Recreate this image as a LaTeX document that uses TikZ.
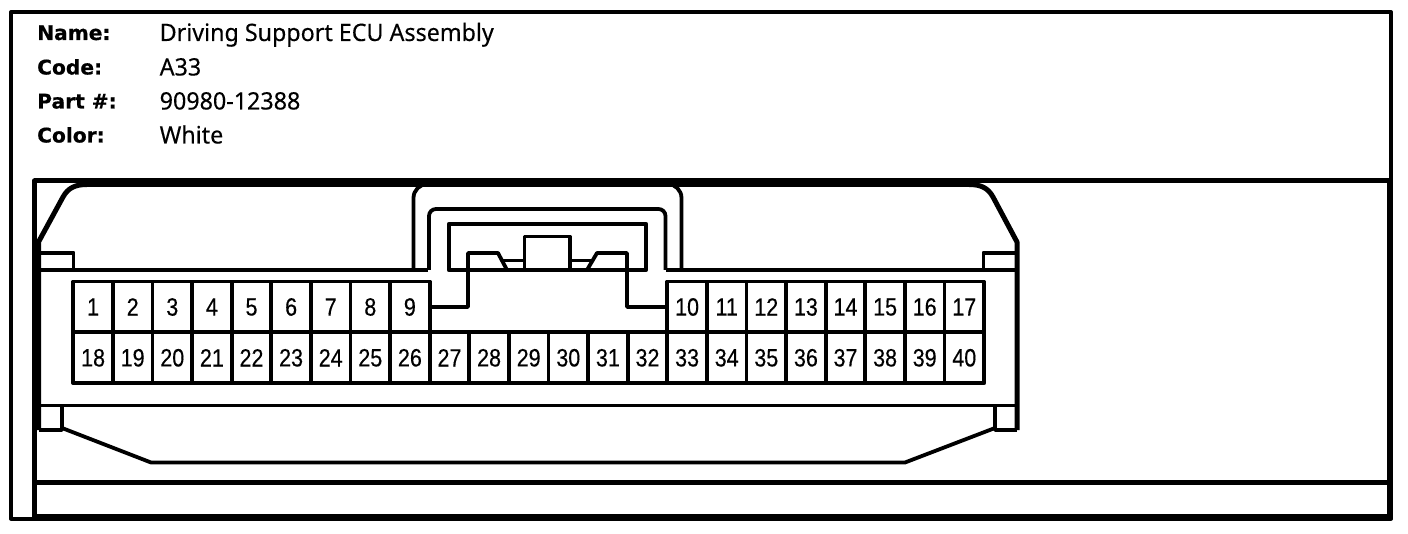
\documentclass[tikz,border=0pt]{standalone}
\usepackage{fontspec}
\setmainfont[FakeStretch=0.97,FakeBold=0.25]{Noto Sans}
\newfontfamily\labelfont[BoldFeatures={FakeBold=0.5}]{DejaVu Sans}
\newfontfamily\pinfont[FakeStretch=0.86,FakeBold=0.35]{Liberation Sans}
\usetikzlibrary{positioning}

\begin{document}
\begin{tikzpicture}[x=1pt, y=-1pt, line join=round,
    framel/.style={line width=4pt},
    bodyl/.style={line width=3.8pt},
    heavyl/.style={line width=5pt},
    pinbox/.style={draw, line width=3.8pt, minimum width=39.6pt, minimum height=50.8pt, inner sep=0pt, outer sep=0pt, font=\pinfont\fontsize{25}{25}\selectfont},
    keytext/.style={anchor=base west, inner sep=0pt, font=\labelfont\bfseries\fontsize{20.2}{20}\selectfont},
    valtext/.style={anchor=base west, inner sep=0pt, font=\fontsize{24}{24}\selectfont}]
        \useasboundingbox (0,0) rectangle (1408,534);
        % Frames
        \draw[framel] (11,518.5) -- (11,12) -- (1391,12) -- (1391,518.5) -- cycle;
        \draw[line width=5pt] (34.5,181) rectangle (1389,516.5);
        \draw[line width=5pt] (34.5,482.5) -- (1389,482.5);
        % Header
        \node[keytext] (kname) at (37,40) {Name:};
        \node[keytext] (kcode) at (37,74.5) {Code:};
        \node[keytext] (kpart) at (37,108.5) {Part \#:};
        \node[keytext] (kcolor) at (37,142.5) {Color:};
        \node[valtext] (vname) at (159.5,41) {Driving Support ECU Assembly};
        \node[valtext] (vcode) at (159.5,75.5) {A33};
        \node[valtext] (vpart) at (159.5,109.5) {90980-12388};
        \node[valtext] (vcolor) at (159.5,143.5) {White};
        % Housing outline
        \draw[line width=8.5pt] (85,182.5) -- (975,182.5);
        \draw[heavyl] (38.5,430) -- (38.5,242) -- (63,197) .. controls (68,188) and (75,184.5) .. (87,184.5);
        \draw[heavyl] (1017,430) -- (1017,242) -- (993,197) .. controls (988,188) and (981,184.5) .. (969,184.5);
        \draw[bodyl] (38.5,430) -- (62,430) -- (62,406);
        \draw[bodyl] (1017,430) -- (995,430) -- (995,406);
        \draw[bodyl] (38.5,405.5) -- (1017,405.5);
        \draw[bodyl] (62,428) -- (151,462.5) -- (905,462.5) -- (995,428);
        % Latch ledge
        \draw[bodyl] (38.5,270) -- (428,270);
        \draw[bodyl] (666,270) -- (1017,270);
        \draw[bodyl] (38.5,252.7) -- (73.5,252.7) -- (73.5,270);
        \draw[bodyl] (1017,252.7) -- (983.5,252.7) -- (983.5,270);
        % Latch arches
        \draw[bodyl, rounded corners=14pt] (413.5,270) -- (413.5,184) -- (681.5,184) -- (681.5,270);
        \draw[bodyl, rounded corners=7pt] (429,270) -- (429,209) -- (665.5,209) -- (665.5,270);
        \draw[line width=4.2pt] (449,270) -- (449,224) -- (646,224) -- (646,270) -- cycle;
        \draw[bodyl] (524.5,270) -- (524.5,236.5) -- (570,236.5) -- (570,270);
        \draw[line width=2.8pt] (503,260.5) -- (524.5,260.5);
        \draw[line width=2.8pt] (570,260.5) -- (591,260.5);
        % Pins
        \foreach \i in {18,...,40} {
            \node[pinbox] (p\i) at ({73.3+39.6*(\i-17.5)},357.8) {\i};
        }
        \foreach \i in {1,...,9} {
            \node[pinbox] (p\i) at ({73.3+39.6*(\i-0.5)},307) {\i};
        }
        \foreach \i in {10,...,17} {
            \node[pinbox] (p\i) at ({73.3+39.6*(\i+5.5)},307) {\i};
        }
        % Keyway
        \draw[bodyl] (p9.east) -- (468,307) -- (468,253) -- (498,253) -- (507,270);
        \draw[bodyl] (p10.west) -- (627,307) -- (627,253) -- (597,253) -- (587,270);
    \end{tikzpicture}
\end{document}
